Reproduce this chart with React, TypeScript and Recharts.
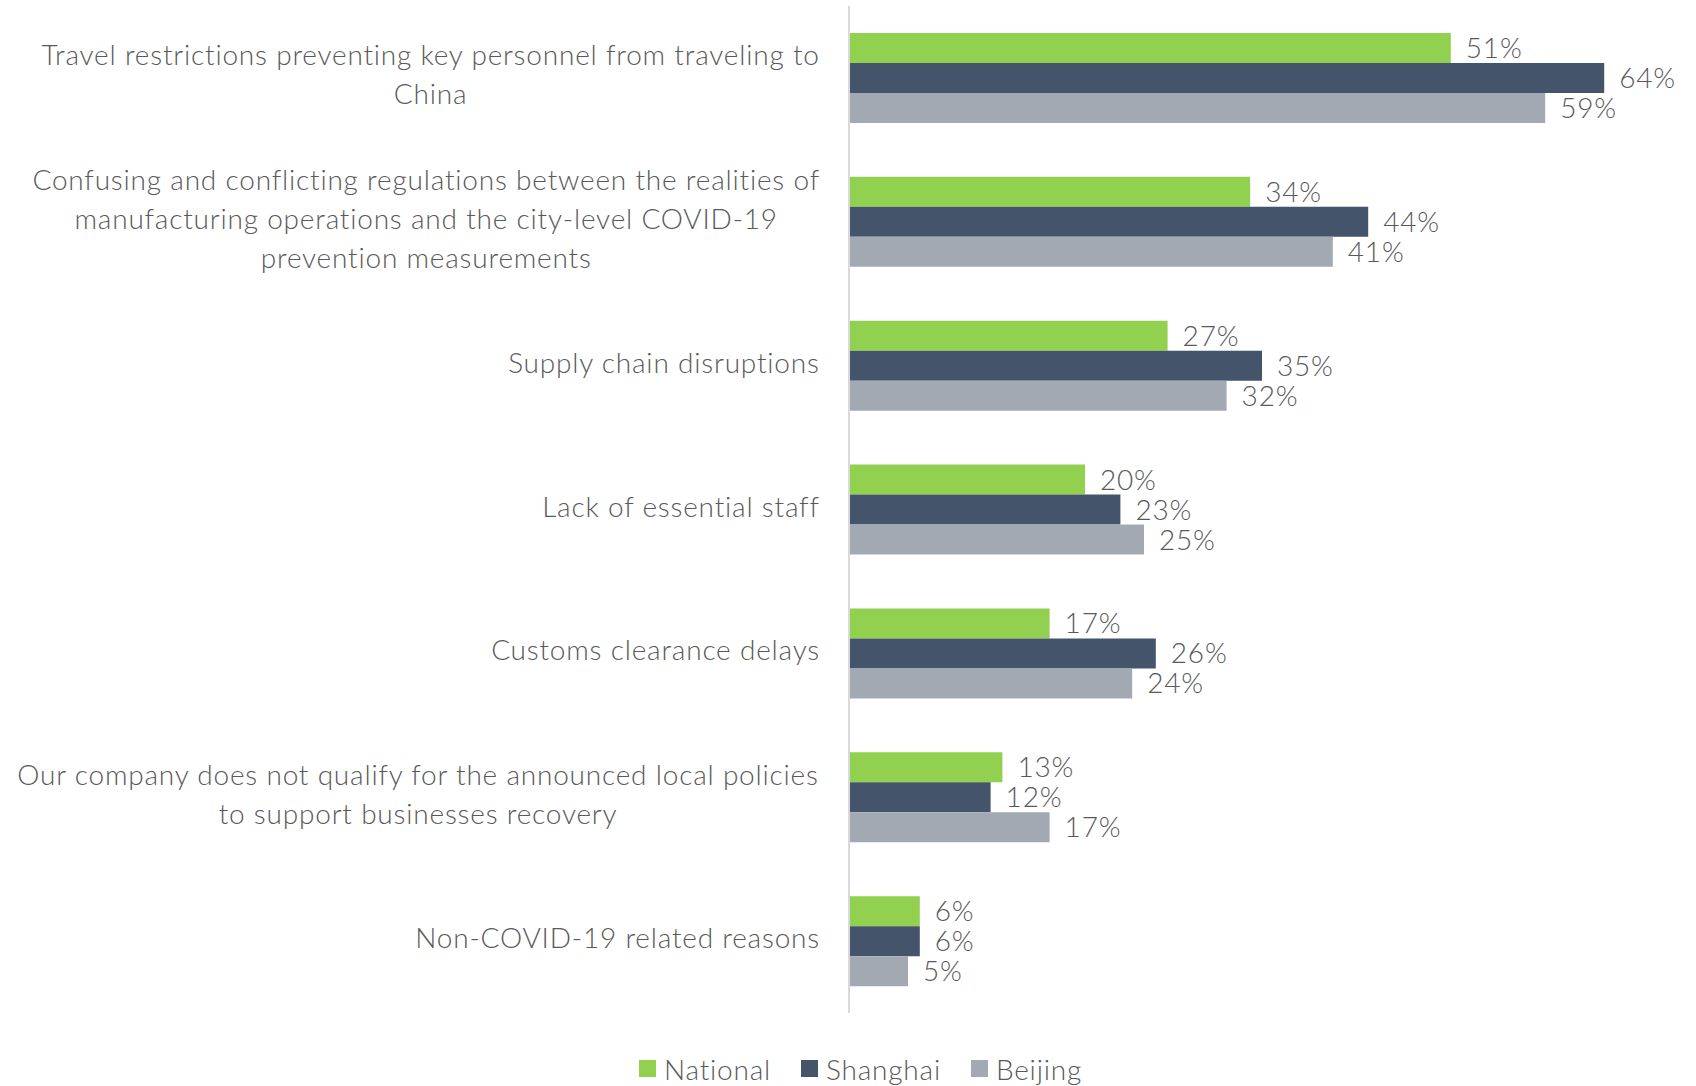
import { Bar, BarChart, LabelList, Legend, XAxis, YAxis } from "recharts";

const categories = [
  "Travel restrictions preventing key personnel from traveling to\nChina",
  "Confusing and conflicting regulations between the realities of\nmanufacturing operations and the city-level COVID-19\nprevention measurements",
  "Supply chain disruptions",
  "Lack of essential staff",
  "Customs clearance delays",
  "Our company does not qualify for the announced local policies\nto support businesses recovery",
  "Non-COVID-19 related reasons",
];
const national = [51, 34, 27, 20, 17, 13, 6];
const shanghai = [64, 44, 35, 23, 26, 12, 6];
const beijing = [59, 41, 32, 25, 24, 17, 5];

const series = [
  { key: "National", values: national, color: "#92D050" },
  { key: "Shanghai", values: shanghai, color: "#44546A" },
  { key: "Beijing", values: beijing, color: "#A3A9B3" },
];

const data = categories.map((name, i) => ({
  name,
  National: national[i],
  Shanghai: shanghai[i],
  Beijing: beijing[i],
}));

const FONT = "Lato, 'Open Sans', sans-serif";
const FONT_SIZE = 28;
const WEIGHT = 300;
const SPACING = 0.8;
const TEXT = "#595959";
const LINE_H = 39;

let ctx: any = null;
function textWidth(s: string) {
  if (!ctx) ctx = document.createElement("canvas").getContext("2d");
  if (!ctx) return s.length * FONT_SIZE * 0.5;
  ctx.font = `${WEIGHT} ${FONT_SIZE}px Lato`;
  ctx.letterSpacing = `${SPACING}px`;
  return ctx.measureText(s).width;
}

// multi-line labels are centered on their widest line, block right-aligned
function CategoryTick({ x, y, payload }: any) {
  const lines = String(payload.value).split("\n");
  const maxW = Math.max(...lines.map(textWidth));
  const cx = x - maxW / 2;
  const first = y - ((lines.length - 1) * LINE_H) / 2 + 7;
  return (
    <g>
      {lines.map((line, i) => (
        <text
          key={i}
          x={cx}
          y={first + i * LINE_H}
          textAnchor="middle"
          fill={TEXT}
          fontSize={FONT_SIZE}
          fontFamily={FONT}
          fontWeight={WEIGHT}
          letterSpacing={SPACING}
        >
          {line}
        </text>
      ))}
    </g>
  );
}

function LegendContent() {
  return (
    <div
      style={{
        height: 73,
        boxSizing: "border-box",
        paddingTop: 38,
        paddingLeft: 46,
        display: "flex",
        justifyContent: "center",
        gap: 30,
        fontFamily: FONT,
        fontSize: FONT_SIZE,
        fontWeight: WEIGHT,
        letterSpacing: SPACING,
        color: TEXT,
        lineHeight: "30px",
      }}
    >
      {series.map((s) => (
        <div key={s.key} style={{ display: "flex", alignItems: "center" }}>
          <span
            style={{
              width: 17,
              height: 17,
              background: s.color,
              display: "inline-block",
              marginRight: 8,
            }}
          />
          {s.key}
        </div>
      ))}
    </div>
  );
}

export default function App() {
  return (
    <div style={{ position: "absolute", left: 0, top: 0, background: "#fff" }}>
      <BarChart
        width={1696}
        height={1086}
        data={data}
        layout="vertical"
        margin={{ top: 6, right: 21, left: 0, bottom: 0 }}
        barGap={0}
      >
        <XAxis type="number" domain={[0, 70]} hide />
        <YAxis
          type="category"
          dataKey="name"
          width={849}
          axisLine={{ stroke: "#D9D9D9", strokeWidth: 2 }}
          tickLine={false}
          tickMargin={23}
          tick={<CategoryTick />}
          interval={0}
        />
        <Legend verticalAlign="bottom" content={<LegendContent />} />
        {series.map((s) => (
          <Bar
            key={s.key}
            dataKey={s.key}
            fill={s.color}
            barSize={30}
            isAnimationActive={false}
          >
            <LabelList
              dataKey={s.key}
              position="right"
              offset={15}
              formatter={(v: any) => `${v}%`}
              fill={TEXT}
              fontSize={FONT_SIZE}
              fontFamily={FONT}
              fontWeight={WEIGHT}
              letterSpacing={SPACING}
            />
          </Bar>
        ))}
      </BarChart>
    </div>
  );
}
